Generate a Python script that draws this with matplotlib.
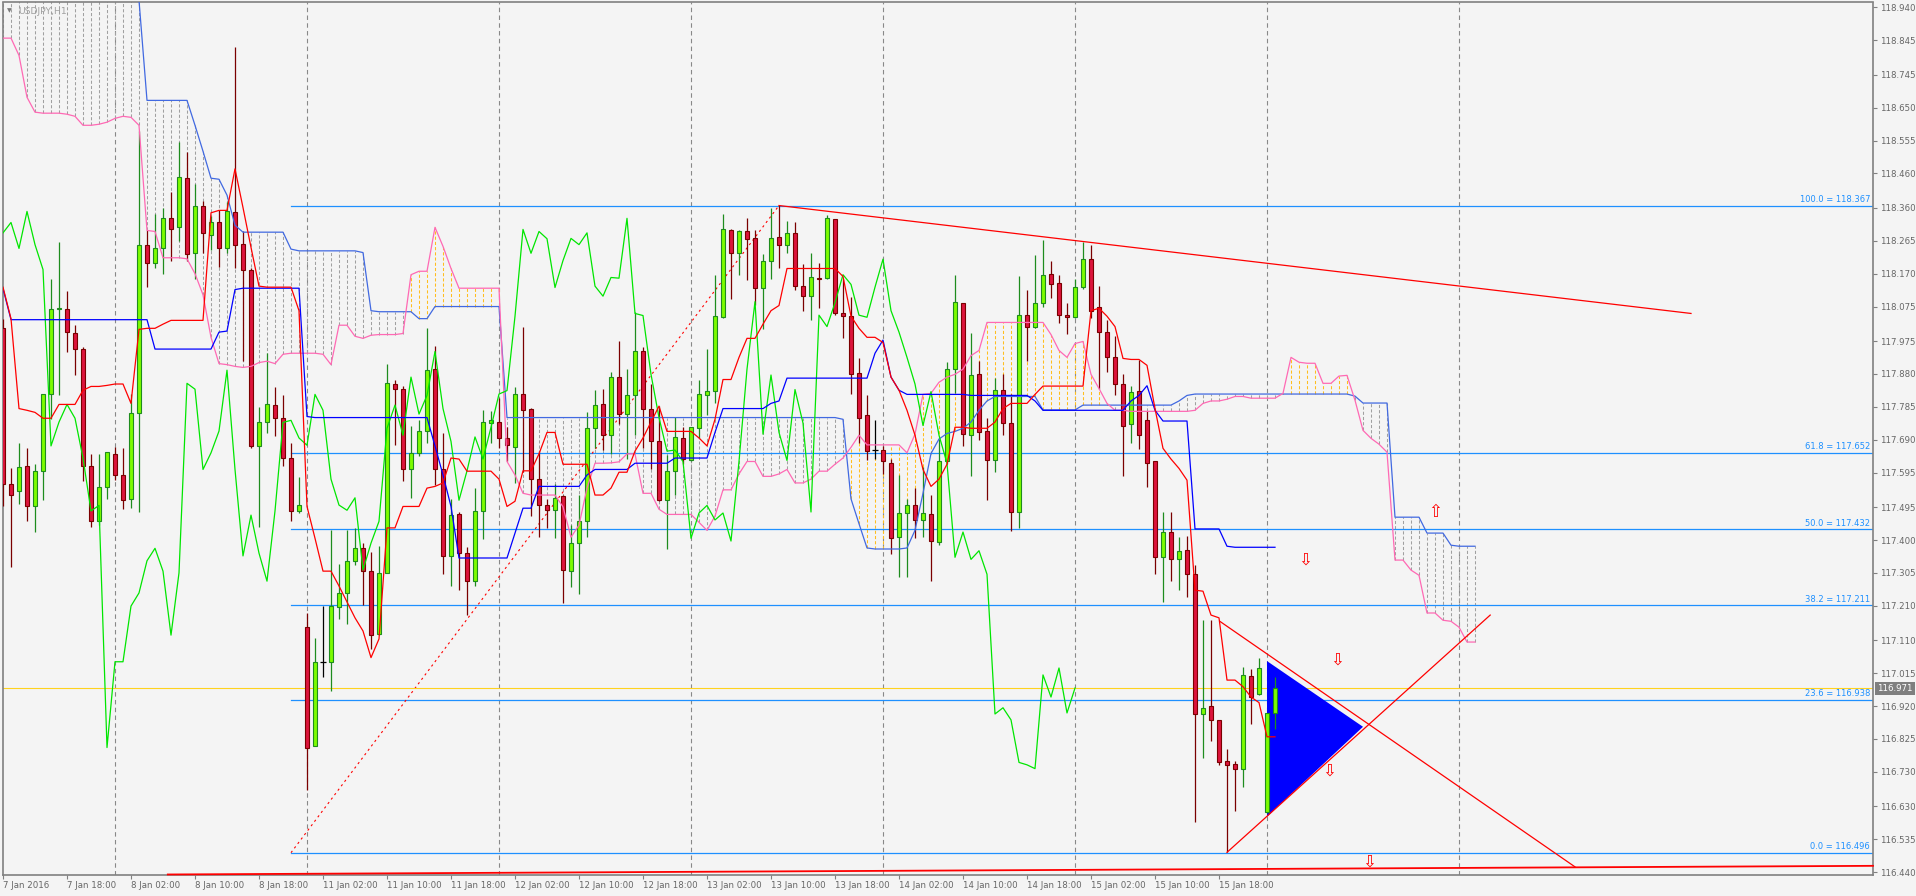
import numpy as np
import matplotlib
matplotlib.use('Agg')
import matplotlib.pyplot as plt

# USDJPY H1, 7-15 Jan 2016, bar index 0 = 7 Jan 10:00
opens = [
    118.014, 117.561, 117.541, 117.614, 117.497, 117.599, 117.821, 118.068, 118.069, 117.998,
    117.952, 117.614, 117.455, 117.553, 117.649, 117.588, 117.519, 117.767, 118.254, 118.200,
    118.243, 118.330, 118.304, 118.448, 118.231, 118.366, 118.283, 118.320, 118.245, 118.349,
    118.257, 118.180, 117.672, 117.741, 117.790, 117.752, 117.637, 117.484, 117.149, 116.805,
    117.048, 117.048, 117.206, 117.247, 117.340, 117.376, 117.310, 117.129, 117.305, 117.850,
    117.836, 117.604, 117.652, 117.715, 117.894, 117.604, 117.354, 117.474, 117.363, 117.281,
    117.484, 117.738, 117.740, 117.694, 117.669, 117.821, 117.778, 117.576, 117.501, 117.486,
    117.527, 117.310, 117.391, 117.454, 117.723, 117.793, 117.703, 117.871, 117.764, 117.818,
    117.946, 117.780, 117.685, 117.516, 117.600, 117.695, 117.631, 117.723, 117.819, 117.832,
    118.044, 118.297, 118.229, 118.294, 118.272, 118.130, 118.208, 118.275, 118.254, 118.288,
    118.134, 118.105, 118.158, 118.157, 118.327, 118.055, 118.047, 117.882, 117.761, 117.660,
    117.660, 117.622, 117.408, 117.478, 117.500, 117.458, 117.474, 117.393, 117.627, 117.894,
    118.086, 117.703, 117.880, 117.714, 117.630, 117.835, 117.737, 117.481, 118.050, 118.015,
    118.086, 118.170, 118.142, 118.050, 118.044, 118.131, 118.211, 118.073, 118.001, 117.929,
    117.851, 117.734, 117.830, 117.746, 117.627, 117.350, 117.423, 117.344, 117.371, 117.301,
    116.897, 116.921, 116.880, 116.760, 116.751, 116.739, 117.007, 116.956, 116.615, 116.900,
]
highs = [
    118.040, 117.607, 117.680, 117.665, 117.619, 117.821, 118.156, 118.261, 118.121, 118.023,
    117.959, 117.649, 117.649, 117.654, 117.669, 117.665, 117.821, 118.583, 118.295, 118.343,
    118.361, 118.407, 118.552, 118.522, 118.430, 118.381, 118.338, 118.353, 118.376, 118.825,
    118.292, 118.185, 117.784, 117.940, 117.841, 117.818, 117.680, 117.581, 117.190, 117.117,
    117.209, 117.428, 117.331, 117.428, 117.435, 117.392, 117.366, 117.382, 117.910, 117.864,
    117.845, 117.729, 117.746, 118.012, 117.960, 117.708, 117.519, 117.481, 117.379, 117.550,
    117.776, 117.772, 117.810, 117.726, 117.841, 118.017, 117.783, 117.657, 117.519, 117.561,
    117.530, 117.443, 117.530, 117.769, 117.833, 117.838, 117.887, 117.974, 117.894, 118.058,
    117.959, 117.851, 117.787, 117.645, 117.757, 117.726, 117.726, 117.864, 117.951, 118.165,
    118.343, 118.300, 118.297, 118.330, 118.295, 118.226, 118.361, 118.369, 118.323, 118.318,
    118.197, 118.231, 118.200, 118.341, 118.327, 118.154, 118.104, 117.925, 117.818, 117.746,
    117.672, 117.634, 117.588, 117.519, 117.550, 117.611, 117.530, 117.691, 117.914, 118.167,
    118.086, 117.998, 117.917, 117.754, 117.868, 117.879, 117.821, 118.162, 118.124, 118.223,
    118.266, 118.208, 118.165, 118.086, 118.154, 118.261, 118.254, 118.134, 118.035, 117.991,
    117.879, 117.844, 117.920, 117.772, 117.627, 117.481, 117.481, 117.408, 117.412, 117.328,
    117.168, 117.168, 116.880, 116.797, 116.762, 117.033, 117.027, 117.060, 116.900, 117.004,
]
lows = [
    117.497, 117.321, 117.504, 117.454, 117.423, 117.515, 117.749, 117.818, 117.943, 117.876,
    117.570, 117.438, 117.443, 117.519, 117.573, 117.489, 117.492, 117.481, 118.131, 118.185,
    118.170, 118.206, 118.265, 118.206, 118.154, 118.231, 118.239, 118.188, 118.231, 118.185,
    117.917, 117.665, 117.438, 117.708, 117.701, 117.614, 117.455, 117.478, 116.678, 116.805,
    117.004, 116.964, 117.171, 117.157, 117.328, 117.213, 117.086, 117.125, 117.305, 117.675,
    117.570, 117.522, 117.642, 117.680, 117.558, 117.302, 117.267, 117.255, 117.183, 117.267,
    117.402, 117.680, 117.665, 117.627, 117.565, 117.596, 117.470, 117.408, 117.435, 117.405,
    117.218, 117.264, 117.244, 117.408, 117.665, 117.660, 117.649, 117.734, 117.634, 117.703,
    117.665, 117.604, 117.512, 117.374, 117.530, 117.619, 117.627, 117.695, 117.760, 117.795,
    118.043, 118.096, 118.167, 118.151, 118.078, 118.009, 118.154, 118.185, 118.231, 118.124,
    118.063, 118.035, 118.070, 118.154, 118.050, 117.983, 117.822, 117.680, 117.631, 117.634,
    117.591, 117.359, 117.294, 117.293, 117.405, 117.408, 117.282, 117.385, 117.619, 117.825,
    117.672, 117.584, 117.688, 117.515, 117.596, 117.703, 117.426, 117.435, 117.917, 118.012,
    118.075, 118.101, 118.027, 117.997, 118.043, 118.127, 118.043, 117.836, 117.887, 117.818,
    117.584, 117.680, 117.662, 117.553, 117.301, 117.221, 117.282, 117.255, 117.236, 116.586,
    116.770, 116.820, 116.750, 116.497, 116.617, 116.686, 116.869, 116.953, 116.612, 116.854,
]
closes = [
    117.561, 117.530, 117.610, 117.497, 117.599, 117.821, 118.069, 118.070, 118.001, 117.952,
    117.614, 117.455, 117.553, 117.654, 117.588, 117.515, 117.767, 118.254, 118.200, 118.243,
    118.330, 118.300, 118.450, 118.228, 118.366, 118.288, 118.318, 118.243, 118.350, 118.254,
    118.182, 117.672, 117.741, 117.792, 117.752, 117.637, 117.484, 117.500, 116.800, 117.048,
    117.048, 117.209, 117.247, 117.340, 117.376, 117.310, 117.125, 117.305, 117.853, 117.836,
    117.604, 117.652, 117.715, 117.891, 117.604, 117.354, 117.472, 117.362, 117.281, 117.484,
    117.740, 117.746, 117.695, 117.674, 117.821, 117.775, 117.576, 117.501, 117.486, 117.522,
    117.313, 117.391, 117.454, 117.723, 117.790, 117.703, 117.871, 117.764, 117.818, 117.945,
    117.780, 117.685, 117.515, 117.600, 117.698, 117.634, 117.726, 117.822, 117.832, 118.047,
    118.298, 118.229, 118.292, 118.271, 118.130, 118.208, 118.272, 118.254, 118.288, 118.134,
    118.105, 118.159, 118.156, 118.330, 118.055, 118.049, 117.879, 117.754, 117.657, 117.660,
    117.627, 117.405, 117.478, 117.500, 117.458, 117.478, 117.397, 117.627, 117.894, 118.089,
    117.706, 117.877, 117.711, 117.630, 117.835, 117.738, 117.481, 118.050, 118.017, 118.086,
    118.167, 118.139, 118.050, 118.044, 118.131, 118.212, 118.063, 118.001, 117.928, 117.851,
    117.731, 117.829, 117.703, 117.622, 117.350, 117.423, 117.344, 117.369, 117.301, 116.897,
    116.915, 116.880, 116.757, 116.750, 116.739, 117.010, 116.946, 117.030, 116.900, 116.972,
]

# Ichimoku lines
tenkan = [
    118.131, 118.040, 117.780, 117.775, 117.769, 117.752, 117.752, 117.792, 117.792, 117.792,
    117.833, 117.844, 117.844, 117.847, 117.851, 117.851, 117.795, 118.009, 118.012, 118.012,
    118.024, 118.035, 118.035, 118.035, 118.035, 118.035, 118.346, 118.353, 118.353, 118.473,
    118.361, 118.246, 118.134, 118.131, 118.131, 118.131, 118.131, 118.063, 117.497, 117.405,
    117.310, 117.310, 117.267, 117.221, 117.175, 117.137, 117.060, 117.114, 117.435, 117.435,
    117.497, 117.497, 117.497, 117.550, 117.555, 117.565, 117.637, 117.634, 117.599, 117.599,
    117.599, 117.599, 117.576, 117.497, 117.512, 117.600, 117.600, 117.649, 117.711, 117.711,
    117.619, 117.619, 117.619, 117.619, 117.530, 117.530, 117.550, 117.596, 117.596, 117.657,
    117.695, 117.741, 117.787, 117.714, 117.714, 117.714, 117.714, 117.695, 117.672, 117.749,
    117.864, 117.864, 117.928, 117.983, 117.983, 118.024, 118.063, 118.078, 118.185, 118.185,
    118.185, 118.185, 118.185, 118.185, 118.185, 118.162, 118.047, 118.012, 117.986, 117.986,
    117.971, 117.871, 117.833, 117.775, 117.703, 117.604, 117.555, 117.576, 117.619, 117.726,
    117.726, 117.723, 117.723, 117.723, 117.741, 117.780, 117.795, 117.795, 117.795, 117.821,
    117.845, 117.845, 117.845, 117.845, 117.845, 117.845, 118.063, 118.070, 118.047, 118.017,
    117.925, 117.922, 117.922, 117.905, 117.780, 117.665, 117.634, 117.607, 117.573, 117.255,
    117.252, 117.183, 117.175, 116.995, 116.995, 116.976, 116.946, 116.930, 116.831, 116.831,
]
kijun = [
    118.127, 118.037, 118.037, 118.037, 118.037, 118.037, 118.037, 118.037, 118.037, 118.037,
    118.037, 118.037, 118.037, 118.037, 118.037, 118.037, 118.037, 118.037, 118.037, 117.952,
    117.952, 117.952, 117.952, 117.952, 117.952, 117.952, 117.952, 118.001, 118.004, 118.124,
    118.128, 118.128, 118.128, 118.128, 118.128, 118.128, 118.128, 118.128, 117.757, 117.754,
    117.754, 117.754, 117.754, 117.754, 117.754, 117.754, 117.754, 117.754, 117.754, 117.754,
    117.754, 117.754, 117.754, 117.754, 117.672, 117.588, 117.497, 117.348, 117.348, 117.348,
    117.348, 117.348, 117.348, 117.348, 117.420, 117.492, 117.492, 117.555, 117.555, 117.555,
    117.555, 117.555, 117.555, 117.588, 117.604, 117.604, 117.604, 117.604, 117.604, 117.622,
    117.622, 117.622, 117.622, 117.622, 117.637, 117.637, 117.637, 117.637, 117.637, 117.711,
    117.780, 117.780, 117.780, 117.780, 117.780, 117.780, 117.795, 117.802, 117.868, 117.868,
    117.868, 117.868, 117.868, 117.868, 117.868, 117.868, 117.868, 117.868, 117.868, 117.940,
    117.978, 117.871, 117.833, 117.821, 117.821, 117.821, 117.821, 117.821, 117.821, 117.821,
    117.821, 117.818, 117.818, 117.818, 117.818, 117.818, 117.818, 117.818, 117.818, 117.802,
    117.775, 117.775, 117.775, 117.775, 117.775, 117.775, 117.775, 117.775, 117.775, 117.775,
    117.775, 117.802, 117.818, 117.846, 117.775, 117.744, 117.744, 117.744, 117.744, 117.432,
    117.432, 117.432, 117.432, 117.382, 117.379, 117.379, 117.379, 117.379, 117.379, 117.379,
]
# chikou span starts at bar 0 and stops 25 bars before the last candle
chikou = [
    118.288, 118.318, 118.243, 118.350, 118.254, 118.182, 117.672, 117.741, 117.792, 117.752,
    117.637, 117.484, 117.500, 116.800, 117.048, 117.048, 117.209, 117.247, 117.340, 117.376,
    117.310, 117.125, 117.305, 117.853, 117.836, 117.604, 117.652, 117.715, 117.891, 117.604,
    117.354, 117.472, 117.362, 117.281, 117.484, 117.740, 117.746, 117.695, 117.674, 117.821,
    117.775, 117.576, 117.501, 117.486, 117.522, 117.313, 117.391, 117.454, 117.723, 117.790,
    117.703, 117.871, 117.764, 117.818, 117.945, 117.780, 117.685, 117.515, 117.600, 117.698,
    117.634, 117.726, 117.822, 117.832, 118.047, 118.298, 118.229, 118.292, 118.271, 118.130,
    118.208, 118.272, 118.254, 118.288, 118.134, 118.105, 118.159, 118.157, 118.330, 118.055,
    118.049, 117.879, 117.754, 117.657, 117.660, 117.627, 117.405, 117.478, 117.500, 117.458,
    117.478, 117.397, 117.627, 117.894, 118.089, 117.706, 117.877, 117.711, 117.630, 117.835,
    117.738, 117.481, 118.050, 118.017, 118.086, 118.167, 118.139, 118.050, 118.044, 118.131,
    118.212, 118.063, 118.001, 117.928, 117.851, 117.731, 117.829, 117.703, 117.622, 117.350,
    117.423, 117.344, 117.369, 117.301, 116.897, 116.915, 116.880, 116.757, 116.750, 116.739,
    117.010, 116.946, 117.030, 116.900, 116.972,
]
# senkou spans run 25 bars past the last candle (first bars of span A are above the window)
senkou_a = [
    119.250, 119.250, 119.250, 119.250, 119.250, 119.250, 119.250, 119.250, 119.250, 119.250,
    119.250, 119.250, 119.250, 119.250, 119.250, 119.250, 119.250, 118.960, 118.671, 118.671,
    118.671, 118.671, 118.671, 118.671, 118.599, 118.524, 118.446, 118.443, 118.397, 118.310,
    118.290, 118.290, 118.290, 118.290, 118.290, 118.290, 118.241, 118.236, 118.236, 118.236,
    118.236, 118.236, 118.236, 118.236, 118.236, 118.231, 118.063, 118.060, 118.060, 118.060,
    118.060, 118.060, 118.040, 118.040, 118.075, 118.075, 118.075, 118.075, 118.075, 118.075,
    118.075, 118.075, 118.075, 117.754, 117.754, 117.754, 117.754, 117.754, 117.754, 117.754,
    117.754, 117.754, 117.754, 117.754, 117.754, 117.754, 117.754, 117.754, 117.754, 117.754,
    117.754, 117.754, 117.754, 117.754, 117.754, 117.754, 117.754, 117.754, 117.754, 117.754,
    117.754, 117.754, 117.754, 117.754, 117.754, 117.754, 117.754, 117.754, 117.754, 117.754,
    117.754, 117.754, 117.754, 117.754, 117.754, 117.749, 117.519, 117.447, 117.377, 117.374,
    117.374, 117.374, 117.374, 117.377, 117.428, 117.535, 117.650, 117.692, 117.708, 117.714,
    117.723, 117.741, 117.775, 117.802, 117.815, 117.815, 117.815, 117.815, 117.815, 117.815,
    117.776, 117.776, 117.776, 117.776, 117.776, 117.790, 117.790, 117.790, 117.790, 117.790,
    117.790, 117.790, 117.790, 117.790, 117.790, 117.790, 117.790, 117.802, 117.818, 117.822,
    117.822, 117.822, 117.822, 117.822, 117.822, 117.822, 117.822, 117.822, 117.822, 117.822,
    117.822, 117.822, 117.822, 117.822, 117.822, 117.822, 117.822, 117.822, 117.822, 117.816,
    117.796, 117.796, 117.796, 117.796, 117.466, 117.466, 117.466, 117.466, 117.420, 117.420,
    117.420, 117.385, 117.382, 117.382, 117.382,
]
senkou_b = [
    118.851, 118.851, 118.801, 118.680, 118.637, 118.634, 118.634, 118.634, 118.631, 118.625,
    118.599, 118.599, 118.602, 118.608, 118.619, 118.625, 118.622, 118.599, 118.295, 118.292,
    118.216, 118.216, 118.216, 118.213, 118.170, 118.109, 117.986, 117.910, 117.907, 117.902,
    117.899, 117.902, 117.913, 117.917, 117.910, 117.937, 117.940, 117.940, 117.940, 117.940,
    117.937, 117.907, 118.021, 118.021, 117.989, 117.983, 117.992, 117.994, 117.994, 117.994,
    117.997, 118.167, 118.177, 118.177, 118.304, 118.249, 118.185, 118.128, 118.128, 118.128,
    118.128, 118.128, 118.128, 117.627, 117.588, 117.535, 117.530, 117.530, 117.530, 117.530,
    117.496, 117.408, 117.443, 117.550, 117.622, 117.622, 117.623, 117.626, 117.649, 117.649,
    117.535, 117.535, 117.489, 117.474, 117.474, 117.474, 117.474, 117.451, 117.428, 117.469,
    117.545, 117.545, 117.591, 117.627, 117.627, 117.584, 117.584, 117.591, 117.604, 117.565,
    117.565, 117.576, 117.599, 117.599, 117.619, 117.637, 117.668, 117.703, 117.675, 117.675,
    117.675, 117.675, 117.675, 117.652, 117.706, 117.821, 117.824, 117.856, 117.871, 117.879,
    117.894, 117.933, 117.948, 118.029, 118.029, 118.029, 118.029, 118.029, 118.029, 118.029,
    118.029, 117.994, 117.948, 117.928, 117.968, 117.974, 117.879, 117.838, 117.795, 117.775,
    117.775, 117.772, 117.772, 117.772, 117.772, 117.772, 117.772, 117.772, 117.772, 117.775,
    117.795, 117.802, 117.802, 117.807, 117.815, 117.815, 117.810, 117.810, 117.810, 117.810,
    117.824, 117.928, 117.914, 117.911, 117.911, 117.853, 117.853, 117.874, 117.876, 117.804,
    117.717, 117.694, 117.677, 117.654, 117.342, 117.342, 117.313, 117.298, 117.189, 117.189,
    117.168, 117.165, 117.148, 117.105, 117.105,
]

# Fibonacci retracement (anchored low -> high)
fib_levels = ['100.0', '61.8', '50.0', '38.2', '23.6', '0.0']
fib_prices = [118.367, 117.652, 117.432, 117.211, 116.938, 116.496]
fib_anchor_bars = [36, 97]
fib_anchor_prices = [116.496, 118.367]

# trend lines: (bar1, price1, bar2, price2)
trendlines = [
    (97, 118.367, 211, 118.055),
    (152.1, 117.165, 196.5, 116.455),
    (153, 116.497, 185.9, 117.183),
    (20.6, 116.433, 233.75, 116.458),
]
triangle_bars = [158, 158, 170]
triangle_prices = [117.050, 116.600, 116.860]
down_arrows = [(162.75, 117.342), (166.8, 117.055), (165.8, 116.733), (170.75, 116.470)]
up_arrows = [(179, 117.480)]

bid = 116.971
day_breaks = [14, 38, 62, 86, 110, 134, 158, 182]

xtick_bars = [0, 8, 16, 24, 32, 40, 48, 56, 64, 72, 80, 88, 96, 104, 112, 120, 128, 136, 144, 152]
xtick_labels = ['7 Jan 2016', '7 Jan 18:00', '8 Jan 02:00', '8 Jan 10:00', '8 Jan 18:00',
                '11 Jan 02:00', '11 Jan 10:00', '11 Jan 18:00', '12 Jan 02:00', '12 Jan 10:00',
                '12 Jan 18:00', '13 Jan 02:00', '13 Jan 10:00', '13 Jan 18:00', '14 Jan 02:00',
                '14 Jan 10:00', '14 Jan 18:00', '15 Jan 02:00', '15 Jan 10:00', '15 Jan 18:00']
ytick_vals = [118.940, 118.845, 118.745, 118.650, 118.555, 118.460, 118.360, 118.265, 118.170,
              118.075, 117.975, 117.880, 117.785, 117.690, 117.595, 117.495, 117.400, 117.305,
              117.210, 117.110, 117.015, 116.920, 116.825, 116.730, 116.630, 116.535, 116.440]

bg = '#F4F4F4'
fig = plt.figure(figsize=(19.16, 8.96), dpi=100, facecolor=bg)
ax = fig.add_axes([2.5/1916, 21/896, 1870.5/1916, 872.5/896], facecolor=bg)
ax.set_xlim(-0.0625, 233.75)
ax.set_ylim(116.4315, 118.954)

# day separators
for b in day_breaks:
    ax.axvline(b, color='#888888', lw=0.8, ls=(0, (4, 3)), zorder=1)

# kumo hatching
sa = np.array(senkou_a)
sb = np.array(senkou_b)
kx = np.arange(len(sa))
kcol = np.where(sa > sb, '#A0A0A0', '#FFBE1E')
ax.vlines(kx, np.minimum(sa, sb), np.maximum(sa, sb), colors=kcol, lw=0.75,
          linestyles=(0, (3, 2)), zorder=1)

# fibonacci
for lev, p in zip(fib_levels, fib_prices):
    ax.plot([fib_anchor_bars[0], 233.75], [p, p], color='#1E90FF', lw=0.9, zorder=2)
    ax.annotate('%s = %.3f' % (lev, p), xy=(1.0, p), xycoords=('axes fraction', 'data'),
                xytext=(-2, 1), textcoords='offset points', ha='right', va='bottom',
                fontsize=6, color='#1E90FF')
ax.plot(fib_anchor_bars, fib_anchor_prices, color='red', lw=0.8, ls=(0, (2, 3)), zorder=2)

ax.axhline(bid, color='#FFD21E', lw=0.8, zorder=2)

ax.fill(triangle_bars, triangle_prices, color='#0000FF', lw=0, zorder=2)

# candles
o = np.array(opens); h = np.array(highs); l = np.array(lows); c = np.array(closes)
x = np.arange(len(c))
up = c > o
dn = c < o
eq = c == o
wick_col = np.where(up, '#1E8C1E', np.where(dn, '#7A0000', 'black'))
ax.vlines(x, l, h, colors=wick_col, lw=0.9, zorder=3)
bot = np.minimum(o, c)
hgt = np.abs(c - o)
ax.bar(x[up], hgt[up], bottom=bot[up], width=0.62, color='#7CFC00', edgecolor='#1E8C1E',
       lw=0.8, zorder=4)
ax.bar(x[dn], hgt[dn], bottom=bot[dn], width=0.62, color='#DC143C', edgecolor='#7A0000',
       lw=0.8, zorder=4)
ax.hlines(c[eq], x[eq] - 0.35, x[eq] + 0.35, colors='black', lw=0.9, zorder=4)

# ichimoku
ax.plot(np.arange(len(sa)), sa, color='#4169E1', lw=0.9, zorder=5)
ax.plot(np.arange(len(sb)), sb, color='#FF69B4', lw=0.9, zorder=5)
ax.plot(np.arange(len(chikou)), chikou, color='#00E600', lw=0.9, zorder=5)
ax.plot(np.arange(len(kijun)), kijun, color='#0000FF', lw=0.9, zorder=5)
ax.plot(np.arange(len(tenkan)), tenkan, color='#FF0000', lw=0.9, zorder=5)

# trend lines and arrows
for b1, p1, b2, p2 in trendlines[:3]:
    ax.plot([b1, b2], [p1, p2], color='red', lw=0.9, zorder=6)
b1, p1, b2, p2 = trendlines[3]
ax.plot([b1, b2], [p1, p2], color='red', lw=1.3, zorder=6, clip_on=False)
for b, p in down_arrows:
    ax.text(b, p, '\u21e9', ha='center', va='center', color='red', fontsize=12, zorder=7)
for b, p in up_arrows:
    ax.text(b, p, '\u21e7', ha='center', va='center', color='red', fontsize=12, zorder=7)

# axes styling
for s in ax.spines.values():
    s.set_color('#808080')
    s.set_linewidth(1.2)
ax.yaxis.tick_right()
ax.set_yticks(ytick_vals)
ax.set_yticklabels(['%.3f' % v for v in ytick_vals])
ax.tick_params(axis='y', length=3, width=0.8, color='#808080', labelsize=6.2,
               labelcolor='#666666', pad=2)
ax.set_xticks(xtick_bars)
ax.set_xticklabels(xtick_labels)
ax.tick_params(axis='x', length=3, width=0.8, color='#808080', labelsize=6.2,
               labelcolor='#666666', pad=1.5)
for lab in ax.get_xticklabels():
    lab.set_horizontalalignment('left')

# current price box
ax.annotate('%.3f' % bid, xy=(1.0, bid), xycoords=('axes fraction', 'data'),
            xytext=(3, 0), textcoords='offset points', ha='left', va='center',
            fontsize=6.2, color='white',
            bbox=dict(boxstyle='square,pad=0.25', fc='#7F7F7F', ec='none'),
            annotation_clip=False)

fig.text(9/1916, 1 - 11/896, '\u25bc', fontsize=4.5, color='#7a7a7a', ha='center', va='center')
fig.text(18/1916, 1 - 11/896, 'USDJPY,H1', fontsize=6.7, color='#A0A0A0', ha='left', va='center')

fig.savefig('out.png', dpi=100, facecolor=bg)
